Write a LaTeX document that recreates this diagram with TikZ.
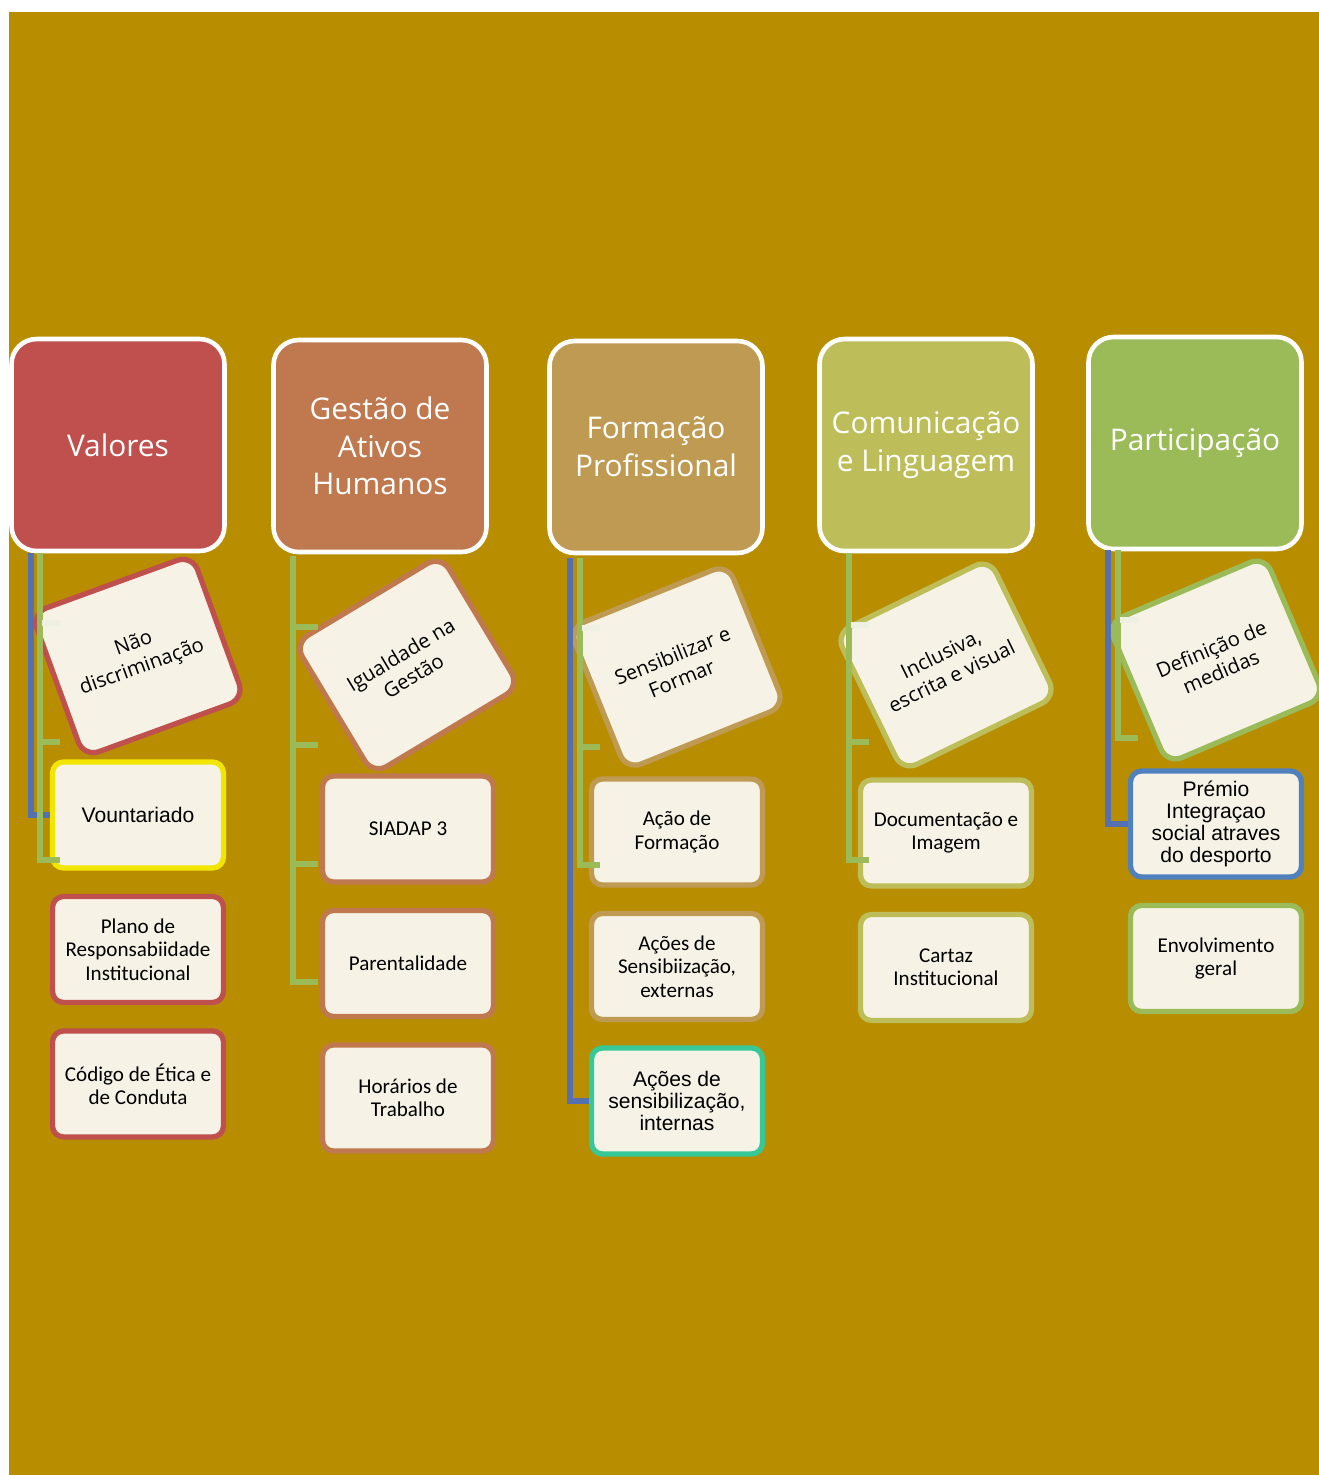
\documentclass[tikz,border=0pt]{standalone}
\usepackage{fontspec}
\setmainfont{Carlito}
\newfontfamily\headfont{Open Sans}
\newfontfamily\arialfont{Liberation Sans}
\usetikzlibrary{positioning}

\definecolor{ouro}{HTML}{B88E00}
\definecolor{creme}{HTML}{F6F3E6}
\definecolor{valores}{HTML}{C0504D}
\definecolor{gestao}{HTML}{C0784F}
\definecolor{formacao}{HTML}{BE9A52}
\definecolor{comunic}{HTML}{BDBD5A}
\definecolor{particip}{HTML}{9BBB59}
\definecolor{azul}{HTML}{5470B0}
\definecolor{verde}{HTML}{9BBB59}
\definecolor{palido}{HTML}{EEF0E2}
\definecolor{amarelo}{HTML}{F2E600}
\definecolor{turquesa}{HTML}{36C997}
\definecolor{azulbox}{HTML}{4F81BD}

\begin{document}
\begin{tikzpicture}[x=0.02cm, y=-0.02cm]
  \tikzstyle{head}=[rectangle, rounded corners=0.5cm, draw=white, line width=2.6pt, minimum width=4.26cm, minimum height=4.24cm, text=white, align=center, font=\headfont\fontsize{17}{21.5}\selectfont]
  \tikzstyle{tilt}=[rectangle, rounded corners=0.32cm, fill=creme, line width=3pt, minimum width=3.42cm, minimum height=3.06cm, align=center, font=\headfont\fontsize{11.5}{14}\selectfont]
  \tikzstyle{leaf}=[rectangle, rounded corners=0.22cm, fill=creme, line width=3pt, minimum width=3.42cm, minimum height=2.12cm, align=center, font=\fontsize{12}{13.3}\selectfont, node distance=2.69cm]
  \tikzstyle{arial}=[font=\arialfont\fontsize{12}{12.6}\selectfont]
  \tikzstyle{gline}=[draw=verde, line width=3pt]
  \tikzstyle{bline}=[draw=azul, line width=3pt]
  \tikzstyle{pale}=[draw=palido, line width=3pt]

  \useasboundingbox (0,0) rectangle (1319,1475);
  \fill[ouro] (9,12) rectangle (1319,1475);

  % cabecalhos
  \node[head, fill=valores] (h1) at (118,445) {Valores};
  \node[head, fill=gestao] (h2) at (380,446) {Gestão de\\Ativos\\Humanos};
  \node[head, fill=formacao] (h3) at (656,447) {Formação\\Profissional};
  \node[head, fill=comunic] (h4) at (926,445) {Comunicação\\e Linguagem};
  \node[head, fill=particip] (h5) at (1195,443) {Participação};

  % caixas inclinadas
  \node[tilt, draw=valores, rotate=20] (r1) at (138,656) {Não\\discriminação};
  \node[tilt, draw=gestao, rotate=31] (r2) at (407,665) {Igualdade na\\Gestão};
  \node[tilt, draw=formacao, rotate=22] (r3) at (677,667) {Sensibilizar e\\Formar};
  \node[tilt, draw=comunic, rotate=26] (r4) at (946,665) {Inclusiva,\\escrita e visual};
  \node[tilt, draw=particip, rotate=23] (r5) at (1216,660) {Definição de\\medidas};

  % Valores
  \node[leaf, arial, draw=amarelo] (vol) at (138,815) {Vountariado};
  \node[leaf, draw=valores] (plano) [below of = vol] {Plano de\\Responsabiidade\\Institucional};
  \node[leaf, draw=valores] (etica) [below of = plano] {Código de Ética e\\de Conduta};

  % Gestao
  \node[leaf, draw=gestao] (siadap) at (408,829) {SIADAP 3};
  \node[leaf, draw=gestao] (parent) [below of = siadap] {Parentalidade};
  \node[leaf, draw=gestao] (horas) [below of = parent] {Horários de\\Trabalho};

  % Formacao
  \node[leaf, draw=formacao] (acao) at (677,832) {Ação de\\Formação};
  \node[leaf, draw=formacao] (extern) [below of = acao] {Ações de\\Sensibiização,\\externas};
  \node[leaf, arial, draw=turquesa] (intern) [below of = extern] {Ações de\\sensibilização,\\internas};

  % Comunicacao
  \node[leaf, draw=comunic] (docum) at (946,833) {Documentação e\\Imagem};
  \node[leaf, draw=comunic] (cartaz) [below of = docum] {Cartaz\\Institucional};

  % Participacao
  \node[leaf, arial, draw=azulbox] (premio) at (1216,824) {Prémio\\Integraçao\\social atraves\\do desporto};
  \node[leaf, draw=particip] (envolv) [below of = premio] {Envolvimento\\geral};

  % ligacoes
  \coordinate (b1) at (31,553);
  \coordinate (g1) at (40,553);
  \coordinate (g2) at (293,556);
  \coordinate (b3) at (570,558);
  \coordinate (g3) at (580,558);
  \coordinate (g4) at (849,553);
  \coordinate (b5) at (1108,550);
  \coordinate (g5) at (1118,550);

  \draw[bline] (b1) |- (vol.west);
  \draw[bline] (b3) |- (intern.west);
  \draw[bline] (b5) |- (premio.west);

  \draw[gline] (g1) -- ++(0,307) -- ++(20,0);
  \draw[gline] (g1) ++(0,189) -- ++(20,0);
  \draw[pale] (g1) ++(1.5,70) -- ++(18.5,0);

  \draw[gline] (g2) -- ++(0,426) -- ++(25,0);
  \foreach \d in {71,189,308}
    \draw[gline] (g2) ++(0,\d) -- ++(25,0);

  \draw[gline] (g3) -- ++(0,307) -- ++(20,0);
  \draw[gline] (g3) ++(0,189) -- ++(20,0);
  \draw[pale] (g3) ++(1.5,70) -- ++(18.5,0);

  \draw[gline] (g4) -- ++(0,307) -- ++(20,0);
  \draw[gline] (g4) ++(0,189) -- ++(20,0);
  \draw[pale] (g4) ++(1.5,72) -- ++(18.5,0);

  \draw[gline] (g5) -- ++(0,188) -- ++(20,0);
  \draw[pale] (g5) ++(1.5,70) -- ++(18.5,0);

\end{tikzpicture}
\end{document}
